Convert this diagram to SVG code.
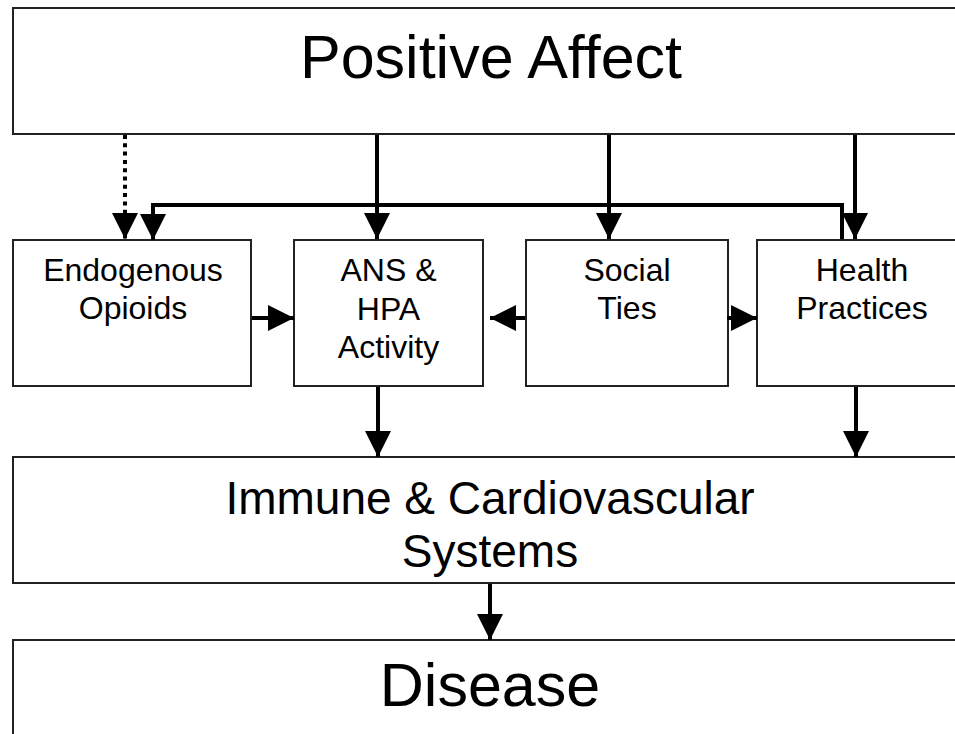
<svg xmlns="http://www.w3.org/2000/svg" width="955" height="734" viewBox="0 0 955 734">
  <style>
    .box { fill: #ffffff; stroke: #222222; stroke-width: 2; }
    .big { font-family: "Liberation Sans", Arial, sans-serif; font-size: 61px; fill: #000; text-anchor: middle; }
    .mid { font-family: "Liberation Sans", Arial, sans-serif; font-size: 46px; fill: #000; text-anchor: middle; }
    .small { font-family: "Liberation Sans", Arial, sans-serif; font-size: 32px; fill: #000; text-anchor: middle; }
    .conn { fill: none; stroke: #000; stroke-width: 4; marker-end: url(#arrow); }
    .dotted { stroke-dasharray: 4 4.3; }
  </style>
  <defs>
    <marker id="arrow" viewBox="0 0 26 26" refX="26" refY="13" markerWidth="26" markerHeight="26" markerUnits="userSpaceOnUse" orient="auto">
      <path d="M0,0 L26,13 L0,26 z" fill="#000"/>
    </marker>
  </defs>
  <rect width="955" height="734" fill="#ffffff"/>

  <g id="positive-affect">
    <rect class="box" x="13" y="8" width="954" height="126"/>
    <text class="big" x="491" y="78">Positive Affect</text>
  </g>

  <g id="endogenous-opioids">
    <rect class="box" x="13" y="240" width="238" height="146"/>
    <text class="small" x="133" y="281">Endogenous</text>
    <text class="small" x="133" y="319">Opioids</text>
  </g>

  <g id="ans-hpa">
    <rect class="box" x="294" y="240" width="189" height="146"/>
    <text class="small" x="388.5" y="281">ANS &amp;</text>
    <text class="small" x="388.5" y="320">HPA</text>
    <text class="small" x="388.5" y="358">Activity</text>
  </g>

  <g id="social-ties">
    <rect class="box" x="526" y="240" width="202" height="146"/>
    <text class="small" x="627" y="281">Social</text>
    <text class="small" x="627" y="319">Ties</text>
  </g>

  <g id="health-practices">
    <rect class="box" x="757" y="240" width="210" height="146"/>
    <text class="small" x="862" y="281">Health</text>
    <text class="small" x="862" y="319">Practices</text>
  </g>

  <g id="immune-cardio">
    <rect class="box" x="13" y="457" width="954" height="126"/>
    <text class="mid" x="490" y="514">Immune &amp; Cardiovascular</text>
    <text class="mid" x="490" y="567">Systems</text>
  </g>

  <g id="disease">
    <rect class="box" x="13" y="640" width="954" height="130"/>
    <text class="big" x="490" y="706">Disease</text>
  </g>

  <g id="connectors">
    <line class="conn dotted" x1="125" y1="135" x2="125" y2="239"/>
    <line class="conn" x1="377" y1="135" x2="377" y2="239"/>
    <line class="conn" x1="609" y1="135" x2="609" y2="239"/>
    <line class="conn" x1="855" y1="135" x2="855" y2="239"/>
    <polyline class="conn" points="842,239 842,205 153,205 153,240"/>
    <line class="conn" x1="252" y1="318" x2="294" y2="318"/>
    <line class="conn" x1="525" y1="318" x2="490" y2="318"/>
    <line class="conn" x1="727" y1="318" x2="757" y2="318"/>
    <line class="conn" x1="378" y1="387" x2="378" y2="457"/>
    <line class="conn" x1="856" y1="387" x2="856" y2="457"/>
    <line class="conn" x1="490" y1="584" x2="490" y2="640"/>
  </g>
</svg>
